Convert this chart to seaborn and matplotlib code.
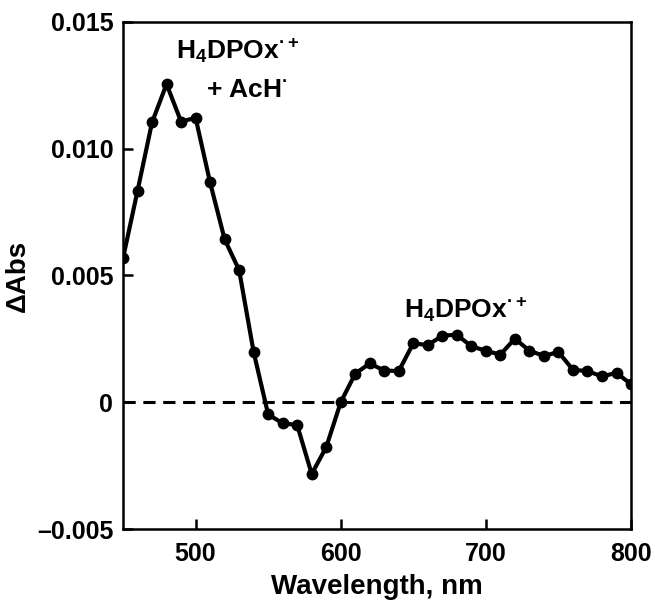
import numpy as np
import pandas as pd
import matplotlib
matplotlib.use("Agg")
import matplotlib.pyplot as plt
import seaborn as sns

# spectrum data
wavelength = [450, 460, 470, 480, 490, 500, 510, 520, 530, 540,
              550, 560, 570, 580, 590, 600, 610, 620, 630, 640,
              650, 660, 670, 680, 690, 700, 710, 720, 730, 740,
              750, 760, 770, 780, 790, 800]
dabs = [0.00568, 0.00834, 0.01104, 0.01255, 0.01107, 0.01122, 0.00867, 0.00643, 0.00521, 0.00198,
        -0.00048, -0.00083, -0.00090, -0.00283, -0.00177, 0.0, 0.00113, 0.00153, 0.00125, 0.00123,
        0.00233, 0.00225, 0.00263, 0.00266, 0.00221, 0.00203, 0.00188, 0.00251, 0.00203, 0.00183,
        0.00198, 0.00128, 0.00123, 0.00102, 0.00116, 0.00071]

xticks = [500, 600, 700, 800]
yticks = [-0.005, 0, 0.005, 0.010, 0.015]
ytick_labels = ["\u20130.005", "0", "0.005", "0.010", "0.015"]

df = pd.DataFrame({"wl": wavelength, "dabs": dabs})

sns.set_style("ticks")
plt.rcParams["font.family"] = ["Liberation Sans", "DejaVu Sans"]
plt.rcParams["font.weight"] = "bold"
plt.rcParams["mathtext.fontset"] = "custom"
plt.rcParams["mathtext.rm"] = "Liberation Sans:bold"
plt.rcParams["mathtext.bf"] = "Liberation Sans:bold"
plt.rcParams["mathtext.default"] = "bf"
for k in ["text.color", "axes.labelcolor", "xtick.color", "ytick.color", "axes.edgecolor"]:
    plt.rcParams[k] = "black"

fig = plt.figure(figsize=(6.55, 6.01), dpi=100)
ax = fig.add_axes([0.1878, 0.1198, 0.7756, 0.8436])

ax.axhline(0, color="black", lw=2.2, ls=(0, (4, 2.5)), zorder=1)
sns.lineplot(data=df, x="wl", y="dabs", ax=ax, color="black", lw=3,
             marker="o", markersize=8.5, markeredgewidth=0, zorder=3)

ax.set_xlim(450, 800)
ax.set_ylim(-0.005, 0.015)
ax.set_xticks(xticks)
ax.set_xticklabels([str(t) for t in xticks])
ax.set_yticks(yticks)
ax.set_yticklabels(ytick_labels)
ax.tick_params(direction="in", length=7, width=1.8, labelsize=18, top=False, right=False)
ax.tick_params(axis="x", pad=9)
ax.tick_params(axis="y", pad=7)
for s in ax.spines.values():
    s.set_linewidth(1.8)
    s.set_visible(True)

ax.set_xlabel("Wavelength, nm", fontsize=20, fontweight="bold", labelpad=6)
ax.set_ylabel("\u0394Abs", fontsize=20, fontweight="bold", labelpad=4)

ax.text(529, 0.01385, r"H$_4$DPOx$^{\bullet+}$", fontsize=19, ha="center", va="center")
ax.text(535, 0.0123, r"+ AcH$^{\bullet}$", fontsize=19, ha="center", va="center")
ax.text(686, 0.00363, r"H$_4$DPOx$^{\bullet+}$", fontsize=19, ha="center", va="center")

plt.savefig("out.png", dpi=100)
